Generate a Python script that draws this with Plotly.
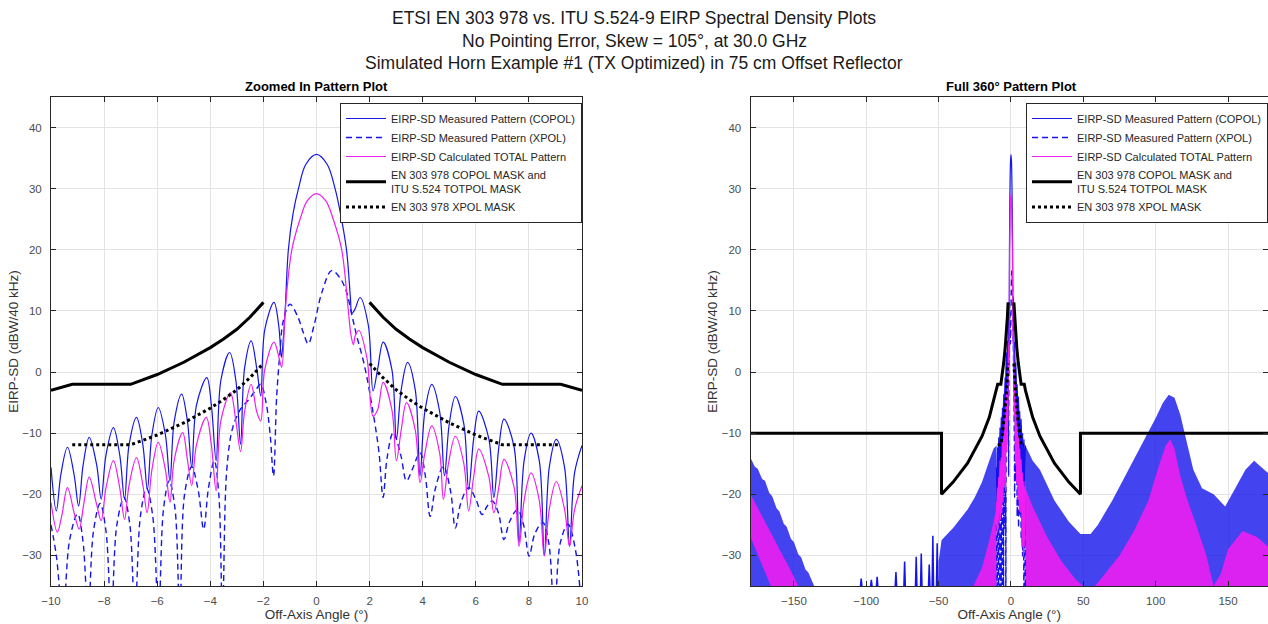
import plotly.graph_objects as go

# ---------------- text ----------------
TITLE_LINES = [
    "ETSI EN 303 978 vs. ITU S.524-9 EIRP Spectral Density Plots",
    "No Pointing Error, Skew = 105°, at 30.0 GHz",
    "Simulated Horn Example #1 (TX Optimized) in 75 cm Offset Reflector",
]
SUB_TITLES = ["Zoomed In Pattern Plot", "Full 360° Pattern Plot"]
LEG = [
    "EIRP-SD Measured Pattern (COPOL)",
    "EIRP-SD Measured Pattern (XPOL)",
    "EIRP-SD Calculated TOTAL Pattern",
    "EN 303 978 COPOL MASK and<br>ITU S.524 TOTPOL MASK",
    "EN 303 978 XPOL MASK",
]
X_LABEL = "Off-Axis Angle (°)"
Y_LABEL = "EIRP-SD (dBW/40 kHz)"
X1_TICKS = [-10, -8, -6, -4, -2, 0, 2, 4, 6, 8, 10]
X2_TICKS = [-150, -100, -50, 0, 50, 100, 150]
Y_TICKS = [-30, -20, -10, 0, 10, 20, 30, 40]

# ---------------- pattern data (off-axis angle deg, dBW/40kHz) ----------------
COP_X = [-10.0, -9.80, -9.63, -9.38, -9.13, -8.96, -8.79, -8.56, -8.28, -8.11,
         -7.93, -7.65, -7.41, -7.23, -7.06, -6.78, -6.54, -6.37, -6.20, -5.96,
         -5.69, -5.52, -5.36, -5.08, -4.86, -4.70, -4.52, -4.13, -3.96, -3.78,
         -3.60, -3.27, -3.04, -2.86, -2.71, -2.46, -2.25, -2.10, -1.95, -1.60,
         -1.42, -1.32, -1.24, -1.18, -1.06, -0.88, -0.68, -0.40, 0.00, 0.40,
         0.70, 0.90, 1.13, 1.28, 1.33, 1.45, 1.64, 1.95, 2.13, 2.30,
         2.51, 2.84, 3.01, 3.19, 3.43, 3.72, 3.90, 4.08, 4.34, 4.64,
         4.82, 5.00, 5.23, 5.55, 5.73, 5.92, 6.11, 6.49, 6.68, 6.87,
         7.06, 7.44, 7.63, 7.82, 8.08, 8.39, 8.58, 8.77, 9.03, 9.34,
         9.53, 9.72, 10.0]
COP_Y = [-15.6, -22.7, -16.8, -12.3, -16.8, -21.9, -15.2, -10.7, -15.2, -20.8,
         -13.6, -9.1, -13.6, -20.8, -11.9, -7.4, -11.9, -19.2, -10.3, -5.8,
         -10.3, -17.8, -8.1, -3.6, -8.1, -15.6, -5.4, -0.9, -5.4, -14.5,
         -1.3, 3.2, -1.3, -11.8, 0.6, 5.1, 0.6, -3.9, 6.9, 11.4,
         7.5, 2.4, 6.0, 10.0, 20.0, 26.0, 30.0, 34.0, 35.6, 34.0,
         30.0, 26.0, 20.0, 12.0, 9.6, 10.3, 12.2, 7.7, -3.1, 0.4,
         4.9, 0.4, -11.0, -2.9, 1.6, -2.9, -17.0, -6.5, -2.0, -6.5,
         -17.0, -8.5, -4.0, -8.5, -19.2, -10.9, -6.4, -10.9, -20.5, -12.2,
         -7.7, -12.2, -27.9, -14.5, -10.0, -14.5, -30.0, -15.5, -11.0, -15.5,
         -28.5, -16.5, -12.0]

XP_X = [-10.0, -9.80, -9.55, -9.30, -9.00, -8.80, -8.60, -8.40, -8.15, -7.93,
        -7.73, -7.52, -7.25, -7.03, -6.84, -6.63, -6.40, -6.17, -5.95, -5.76,
        -5.55, -5.33, -5.15, -4.97, -4.70, -4.45, -4.25, -4.07, -3.85, -3.68,
        -3.54, -3.38, -3.15, -2.85, -2.55, -2.30, -2.10, -1.90, -1.75, -1.62,
        -1.50, -1.38, -1.25, -1.00, -0.70, -0.50, -0.31, -0.10, 0.20, 0.57,
        0.90, 1.13, 1.35, 1.51, 1.81, 2.13, 2.35, 2.51, 2.66, 2.89,
        3.17, 3.39, 3.60, 3.90, 4.10, 4.28, 4.48, 4.78, 5.05, 5.23,
        5.43, 5.73, 6.00, 6.24, 6.42, 6.62, 6.85, 7.06, 7.27, 7.57,
        7.80, 8.01, 8.22, 8.52, 8.75, 8.96, 9.18, 9.47, 9.75, 10.0]
XP_Y = [-25.0, -30.0, -40.0, -27.5, -23.2, -27.5, -40.0, -26.0, -21.5, -26.0,
        -40.0, -25.0, -20.5, -25.0, -40.0, -23.5, -19.0, -23.5, -40.0, -22.3,
        -17.8, -22.3, -40.0, -20.0, -15.5, -19.5, -25.7, -19.0, -14.5, -20.0,
        -40.0, -16.0, -9.0, -6.0, -4.5, -3.0, -2.0, -5.0, -10.0, -17.0,
        -4.0, 3.0, 8.4, 11.1, 9.0, 6.5, 4.6, 7.5, 13.0, 16.6,
        15.3, 13.1, 9.0, 6.0, 1.0, -6.6, -13.0, -20.5, -14.0, -9.9,
        -13.5, -17.8, -16.0, -13.2, -17.0, -23.6, -19.0, -15.4, -19.5, -25.5,
        -21.5, -18.9, -20.8, -23.3, -22.0, -21.1, -23.0, -27.4, -24.5, -22.5,
        -25.0, -30.1, -26.5, -24.6, -28.0, -40.0, -28.0, -24.9, -29.0, -40.0]

TOT_X = [-10.0, -9.76, -9.59, -9.38, -9.11, -8.94, -8.77, -8.56, -8.28, -8.11,
         -7.93, -7.65, -7.41, -7.23, -7.06, -6.78, -6.54, -6.38, -6.20, -5.96,
         -5.69, -5.52, -5.36, -5.04, -4.86, -4.70, -4.52, -4.15, -3.96, -3.78,
         -3.60, -3.24, -3.04, -2.86, -2.71, -2.46, -2.25, -2.10, -1.95, -1.60,
         -1.42, -1.31, -1.18, -0.93, -0.62, -0.35, 0.00, 0.35, 0.63, 0.95,
         1.20, 1.30, 1.39, 1.46, 1.60, 1.90, 2.13, 2.30, 2.51, 2.84,
         3.01, 3.19, 3.39, 3.72, 3.90, 4.08, 4.34, 4.64, 4.78, 4.97,
         5.23, 5.55, 5.73, 5.92, 6.11, 6.49, 6.68, 6.87, 7.06, 7.44,
         7.63, 7.82, 8.08, 8.39, 8.58, 8.77, 9.03, 9.34, 9.53, 9.72, 10.0]
TOT_Y = [-21.3, -26.2, -23.4, -18.9, -23.4, -25.7, -21.7, -17.2, -21.7, -24.3,
         -19.0, -14.5, -19.0, -24.1, -18.5, -14.0, -18.5, -23.0, -16.0, -11.5,
         -16.0, -21.3, -14.4, -9.9, -14.4, -18.6, -11.9, -7.4, -11.9, -19.4,
         -7.9, -3.4, -7.9, -13.0, -6.5, -2.0, -6.5, -8.0, 0.4, 4.9,
         2.5, 0.8, 10.0, 20.0, 25.0, 28.0, 29.2, 28.0, 25.0, 20.0,
         10.0, 6.0, 4.5, 6.0, 6.8, 2.3, -7.2, -6.2, -1.7, -6.2,
         -14.5, -9.5, -5.0, -9.5, -18.1, -13.3, -8.8, -13.3, -20.8, -15.0,
         -10.5, -15.0, -22.7, -17.1, -12.6, -17.1, -23.0, -18.8, -14.3, -18.8,
         -28.5, -21.0, -16.5, -21.0, -30.1, -22.4, -17.9, -22.4, -28.5, -22.5, -18.6]

# masks (positive side; symmetric about boresight)
MASK_X = [2.0, 2.5, 3.0, 3.5, 4.0, 5.0, 6.0, 7.0, 9.2, 10.0]
MASK_Y = [11.4, 9.0, 7.0, 5.4, 4.0, 1.6, -0.4, -2.0, -2.0, -3.0]
MASK_OUT_X = [15.0, 20.0, 30.0, 40.0, 48.0, 48.0, 180.0]
MASK_OUT_Y = [-7.4, -10.5, -14.9, -18.0, -20.0, -10.0, -10.0]
XMASK_X = [2.0, 2.5, 3.0, 3.5, 4.0, 5.0, 6.0, 7.0, 9.2]
XMASK_Y = [1.4, -0.9, -2.9, -4.5, -5.9, -8.3, -10.3, -11.9, -11.9]

# full-360 dense regions (envelopes of the densely oscillating patterns)
BAND_B1_X = [-180, -177, -175, -172, -170, -167, -165, -162, -160, -157, -155, -152,
             -150, -147, -145, -142, -140, -136, -180]
BAND_B1_Y = [-14, -15.5, -15.8, -17.5, -17.8, -19.8, -20.3, -22.3, -22.8, -24.8, -25.3,
             -27.3, -27.8, -29.8, -30.3, -32.3, -32.8, -35, -35]
BAND_M1_X = [-180, -175, -170, -165, -160, -155, -150, -147, -166, -180]
BAND_M1_Y = [-20, -22.2, -24.5, -26.7, -29, -31.2, -33.5, -35, -35, -27]
SPIKE_X = [-104, -103.5, -103, None, -97, -96.5, -96, None, -93, -92.5, -92, None,
           -80, -79.5, -79, None, -74, -73.5, -73, None, -66, -65.5, -65, None,
           -62.5, -62, -61.5, None, -57, -56.5, -56, None, -54.5, -54, -53.5, None,
           -51.5, -51, -50.5]
SPIKE_Y = [-35, -33.8, -35, None, -35, -34, -35, None, -35, -33.5, -35, None,
           -35, -32.7, -35, None, -35, -31, -35, None, -35, -30.2, -35, None,
           -35, -29.7, -35, None, -35, -31.5, -35, None, -35, -26.8, -35, None,
           -35, -28, -35]
BAND_B2_X = [-50, -48, -44, -40, -35, -30, -25, -20, -15, -12, -10, -10, -50]
BAND_B2_Y = [-31, -27.5, -26.5, -25.5, -24, -22.5, -20.5, -18, -14.5, -12.5, -12, -35, -35]
BAND_M2_X = [-26, -20, -15, -12, -10, -10, -26]
BAND_M2_Y = [-35, -32, -27.5, -24.5, -22, -35, -35]
BAND_B3_X = [10, 15, 20, 30, 40, 48, 55, 60, 70, 80, 90, 100, 105, 109, 113, 117, 121,
             126, 132, 140, 148, 155, 162, 168, 175, 180, 180, 10]
BAND_B3_Y = [-12, -14.5, -16, -21, -24.5, -26.5, -26.5, -25, -21, -16.5, -12, -7.5, -5,
             -3.7, -4.2, -7, -11, -16, -19, -20, -22, -19, -16, -14.5, -16, -17, -35, -35]
BAND_M3_X = [10, 15, 25, 35, 45, 50, 58, 65, 75, 85, 95, 100, 104, 107, 110, 113, 117,
             122, 128, 135, 140, 145, 150, 160, 170, 180, 180, 10]
BAND_M3_Y = [-19, -22, -27, -31, -34, -35, -35, -33, -30, -26, -21, -17, -14, -12, -11,
             -12.5, -17, -21, -25, -30, -35, -33, -29, -26, -27, -29, -35, -35]

# ---------------- build ----------------
W, H = 1268, 624
FONT = "Liberation Sans, Arial, sans-serif"
BLUE = "rgb(20,20,235)"
MAG = "rgb(240,30,240)"
BLACK = "#000000"
BLUE_FILL = "rgba(20,20,235,0.8)"
MAG_FILL = "rgba(240,30,240,0.88)"


def fx(p):
    return p / W


def fy(p):
    return 1 - p / H


mask_lx = [-v for v in reversed(MASK_X)]
mask_ly = list(reversed(MASK_Y))
xmask_lx = [-v for v in reversed(XMASK_X)]
xmask_ly = list(reversed(XMASK_Y))
mask_left_x = mask_lx + [None] + MASK_X
mask_left_y = mask_ly + [None] + MASK_Y
xmask_all_x = xmask_lx + [None] + XMASK_X
xmask_all_y = xmask_ly + [None] + XMASK_Y
full_mask_x = ([-v for v in reversed(MASK_OUT_X)] + mask_lx + [None] + MASK_X + MASK_OUT_X)
full_mask_y = (list(reversed(MASK_OUT_Y)) + mask_ly + [None] + MASK_Y + MASK_OUT_Y)

fig = go.Figure()


def add_panel(xa, ya, leg, width, mx, my):
    fig.add_trace(go.Scatter(x=COP_X, y=COP_Y, mode="lines", name=LEG[0], legend=leg,
                             line=dict(color=BLUE, width=width, shape="spline", smoothing=1.0),
                             xaxis=xa, yaxis=ya, hoverinfo="skip"))
    fig.add_trace(go.Scatter(x=XP_X, y=XP_Y, mode="lines", name=LEG[1], legend=leg,
                             line=dict(color=BLUE, width=width + 0.2, dash="6px,4px",
                                       shape="spline", smoothing=1.0),
                             xaxis=xa, yaxis=ya, hoverinfo="skip"))
    fig.add_trace(go.Scatter(x=TOT_X, y=TOT_Y, mode="lines", name=LEG[2], legend=leg,
                             line=dict(color=MAG, width=width, shape="spline", smoothing=1.0),
                             xaxis=xa, yaxis=ya, hoverinfo="skip"))
    fig.add_trace(go.Scatter(x=mx, y=my, mode="lines", name=LEG[3], legend=leg,
                             line=dict(color=BLACK, width=3), xaxis=xa, yaxis=ya, hoverinfo="skip"))
    fig.add_trace(go.Scatter(x=xmask_all_x, y=xmask_all_y, mode="lines", name=LEG[4], legend=leg,
                             line=dict(color=BLACK, width=3, dash="dot"),
                             xaxis=xa, yaxis=ya, hoverinfo="skip"))


# right subplot: sparse far-out spikes (under everything else)
fig.add_trace(go.Scatter(x=SPIKE_X, y=SPIKE_Y, mode="lines", line=dict(color=BLUE, width=1.5),
                         showlegend=False, xaxis="x2", yaxis="y2", hoverinfo="skip"))
add_panel("x", "y", "legend", 1.2, mask_left_x, mask_left_y)
add_panel("x2", "y2", "legend2", 1.2, full_mask_x, full_mask_y)


def band_path(xs, ys):
    pts = ["{} {},{}".format("M" if i == 0 else "L", x, y) for i, (x, y) in enumerate(zip(xs, ys))]
    return " ".join(pts) + " Z"


shapes = []
for bx, by, col in [(BAND_B1_X, BAND_B1_Y, BLUE_FILL), (BAND_B2_X, BAND_B2_Y, BLUE_FILL),
                    (BAND_B3_X, BAND_B3_Y, BLUE_FILL), (BAND_M1_X, BAND_M1_Y, MAG_FILL),
                    (BAND_M2_X, BAND_M2_Y, MAG_FILL), (BAND_M3_X, BAND_M3_Y, MAG_FILL)]:
    shapes.append(dict(type="path", path=band_path(bx, by), xref="x2", yref="y2",
                       fillcolor=col, line=dict(width=0), layer="between"))

axis_common = dict(showline=True, linecolor="#262626", linewidth=1, mirror="ticks",
                   ticks="inside", ticklen=5, tickcolor="#262626", showgrid=True,
                   gridcolor="#e3e3e3", gridwidth=1, zeroline=False, automargin=False,
                   tickfont=dict(family=FONT, size=11.5, color="#4d4d4d"))
ydom = [fy(586), fy(97)]
title_font = dict(family=FONT, size=13.5, color="#333333")
leg_common = dict(bgcolor="white", bordercolor="#262626", borderwidth=1,
                  font=dict(family=FONT, size=11, color="#262626"),
                  itemwidth=40, tracegroupgap=0)

fig.update_layout(
    width=W, height=H, margin=dict(l=0, r=0, t=0, b=0, autoexpand=False),
    paper_bgcolor="white", plot_bgcolor="white",
    font=dict(family=FONT),
    xaxis=dict(domain=[fx(51), fx(582)], range=[-10, 10], tickvals=X1_TICKS, anchor="y",
               title=dict(text=X_LABEL, font=title_font, standoff=3),
               ticklabelstandoff=4, **axis_common),
    yaxis=dict(domain=ydom, range=[-35, 45], tickvals=Y_TICKS, anchor="x",
               title=dict(text=Y_LABEL, font=title_font, standoff=0),
               ticklabelstandoff=6, **axis_common),
    xaxis2=dict(domain=[fx(750.5), 1.0], range=[-180, 177.6], tickvals=X2_TICKS, anchor="y2",
                title=dict(text=X_LABEL, font=title_font, standoff=3),
                ticklabelstandoff=4, **axis_common),
    yaxis2=dict(domain=ydom, range=[-35, 45], tickvals=Y_TICKS, anchor="x2",
                title=dict(text=Y_LABEL, font=title_font, standoff=0),
                ticklabelstandoff=6, **axis_common),
    legend=dict(x=fx(582), xanchor="right", y=fy(103), yanchor="top", **leg_common),
    legend2=dict(x=1.0, xanchor="right", y=fy(103), yanchor="top", **leg_common),
    showlegend=True,
    shapes=shapes,
)

annos = []
for txt, ypx in zip(TITLE_LINES, [18, 41, 63]):
    annos.append(dict(text=txt, x=0.5, y=fy(ypx), xref="paper", yref="paper",
                      xanchor="center", yanchor="middle", showarrow=False,
                      font=dict(family=FONT, size=17.5, color="#1a1a1a")))
for txt, xc in zip(SUB_TITLES, [(51 + 582) / 2, (750.5 + 1271.5) / 2]):
    annos.append(dict(text="<b>" + txt + "</b>", x=fx(xc), y=fy(87), xref="paper", yref="paper",
                      xanchor="center", yanchor="middle", showarrow=False,
                      font=dict(family=FONT, size=13, color="#000000")))
fig.update_layout(annotations=annos)

fig.write_html("out.html")
